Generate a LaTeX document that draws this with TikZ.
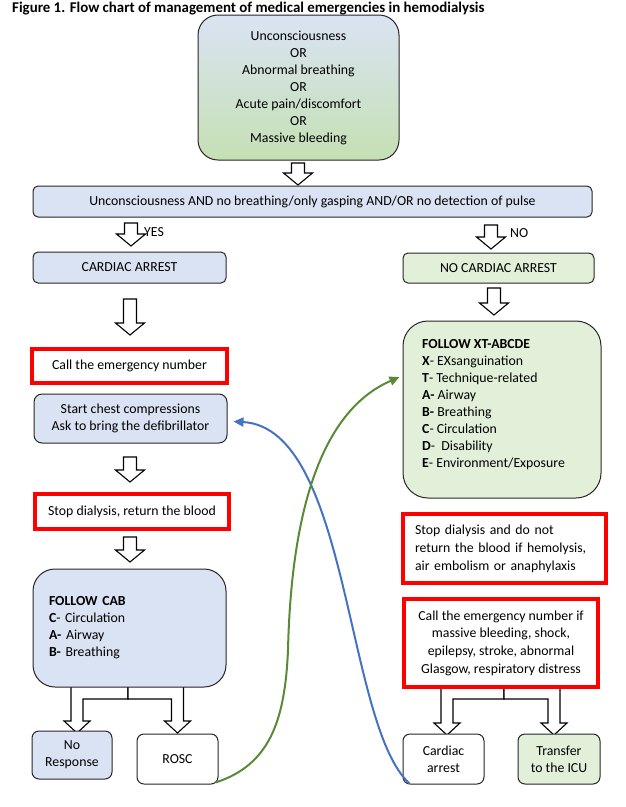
\documentclass[tikz,border=0pt]{standalone}
\usepackage{fontspec}
\setmainfont{Carlito}
\usetikzlibrary{calc,arrows.meta}
\definecolor{lblue}{HTML}{DAE3F3}
\definecolor{lgreen}{HTML}{E2F0D9}
\definecolor{topgreen}{HTML}{C5E0B4}
\definecolor{cblue}{HTML}{4472C4}
\definecolor{cgreen}{HTML}{5B8A36}
\definecolor{bord}{HTML}{262626}
\newcommand\bda[3]{\draw[barrow] ({#1-6.5},#2) -- ({#1+6.5},#2) -- ({#1+6.5},{#3-12}) -- ({#1+14.5},{#3-12}) -- (#1,#3) -- ({#1-14.5},{#3-12}) -- ({#1-6.5},{#3-12}) -- cycle;}
% fork: left shaft x, right shaft x, centre x, top y, mid y, tip y
\newcommand\forkarrows[6]{%
\draw[barrow] (#3,#4) -- ({#1-6},#4) -- ({#1-6},{#6-12}) -- ({#1-13},{#6-12}) -- (#1,#6) -- ({#1+13},{#6-12}) -- ({#1+6},{#6-12}) -- ({#1+6},#5) -- (#3,#5) -- cycle;
\draw[barrow] (#3,#4) -- ({#2+6},#4) -- ({#2+6},{#6-12}) -- ({#2+13},{#6-12}) -- (#2,#6) -- ({#2-13},{#6-12}) -- ({#2-6},{#6-12}) -- ({#2-6},#5) -- (#3,#5) -- cycle;}
\begin{document}
\begin{tikzpicture}[x=1pt,y=-1pt,
  every node/.style={font=\fontsize{13.8}{17}\selectfont, inner sep=0pt},
  box/.style={draw=bord, line width=1pt, rounded corners=6pt, align=center},
  bluebox/.style={box, fill=lblue},
  greenbox/.style={box, fill=lgreen},
  whitebox/.style={box, fill=white},
  redbox/.style={draw=red, line width=3.2pt, fill=white, align=center},
  barrow/.style={draw=black, line width=1.1pt, fill=white, line join=miter},
  curve/.style={line width=2pt, -{Triangle[length=10pt,width=9pt]}},
]
\useasboundingbox (0,0) rectangle (626,807);

% block arrows
\bda{298}{163}{185}
\bda{131}{223}{246}
\bda{491}{225}{249}
\bda{130}{299}{335}
\bda{494}{288}{315}
\bda{130}{457}{482}
\bda{130}{537}{562}
\forkarrows{77}{177.5}{128}{686}{699}{733}
\forkarrows{447}{554}{504}{687}{699}{735}

\node[font=\bfseries\fontsize{14.9}{17}\selectfont, anchor=west] (title) at (12,9)
  {Figure 1. Flow chart of management of medical emergencies in hemodialysis};

\node[box, rounded corners=20pt, top color=lblue, bottom color=topgreen,
      minimum width=201pt, minimum height=145pt] (top) at (298.5,87.5)
  {Unconsciousness\\OR\\Abnormal breathing\\OR\\Acute pain/discomfort\\OR\\Massive bleeding};

\node[bluebox, rounded corners=5pt, minimum width=559pt, minimum height=31pt] (q) at (312.5,201.5)
  {Unconsciousness AND no breathing/only gasping AND/OR no detection of pulse};

\node[anchor=west] (yes) at (144,232) {YES};
\node[anchor=west] (no) at (510,233) {NO};

\node[bluebox, rounded corners=5pt, minimum width=193pt, minimum height=31pt] (ca) at (129.5,267.5) {CARDIAC ARREST};
\node[greenbox, rounded corners=5pt, minimum width=191pt, minimum height=30pt] (nca) at (498.5,268) {NO CARDIAC ARREST};

\node[redbox, minimum width=195pt, minimum height=34pt] (call1) at (129.5,366) {Call the emergency number};
\node[bluebox, rounded corners=8pt, minimum width=193pt, minimum height=49pt] (chest) at (130.5,418.5)
  {Start chest compressions\\Ask to bring the defibrillator};
\node[redbox, minimum width=194pt, minimum height=35pt] (stop1) at (132,511.5) {Stop dialysis, return the blood};
\node[bluebox, rounded corners=22pt, minimum width=193pt, minimum height=118pt, text width=161pt, align=left] (cab) at (129.5,628)
  {\textbf{FOLLOW CAB}\\\textbf{C}- Circulation\\\textbf{A-} Airway\\\textbf{B-} Breathing};
\node[bluebox, rounded corners=7pt, minimum width=80pt, minimum height=48pt] (nr) at (72,755) {No\\Response};
\node[whitebox, rounded corners=7pt, minimum width=81pt, minimum height=50pt] (rosc) at (177.5,759) {ROSC};

\node[greenbox, rounded corners=25pt, minimum width=198pt, minimum height=177pt] (xt) at (502,409.5) {};
\node[anchor=west, align=left] (xttext) at (422,404.5)
  {\textbf{FOLLOW XT-ABCDE}\\\textbf{X}- EXsanguination\\\textbf{T}- Technique-related\\\textbf{A-} Airway\\\textbf{B-} Breathing\\\textbf{C}- Circulation\\\textbf{D}-~ Disability\\\textbf{E}- Environment/Exposure};

\node[redbox, font=\fontsize{13.8}{18}\selectfont, minimum width=203pt, minimum height=69pt, text width=179pt, inner xsep=12pt, align=left] (stop2) at (504.5,548.5)
  {Stop dialysis and do not\\return the blood if hemolysis,\\air embolism or anaphylaxis};
\node[redbox, font=\fontsize{13.8}{17.6}\selectfont, minimum width=194pt, minimum height=88pt] (call2) at (501,643)
  {Call the emergency number if\\massive bleeding, shock,\\epilepsy, stroke, abnormal\\Glasgow, respiratory distress};

\node[whitebox, rounded corners=7pt, minimum width=81pt, minimum height=50pt] (carr) at (443.5,759) {Cardiac\\arrest};
\node[greenbox, rounded corners=7pt, minimum width=82pt, minimum height=50pt] (icu) at (559,759) {Transfer\\to the ICU};

% curved connectors
\draw[curve, cblue] ($(carr.south west)+(7,-1)$) .. controls (345,725) and (350,428) .. ($(chest.east)+(6,3)$);
\draw[curve, cgreen] ($(rosc.south east)+(-3,-2)$) .. controls (270,765) and (285,720) .. (288,650)
   .. controls (292,480) and (335,405) .. ($(xt.west)+(-3,-32.5)$);
\end{tikzpicture}
\end{document}
